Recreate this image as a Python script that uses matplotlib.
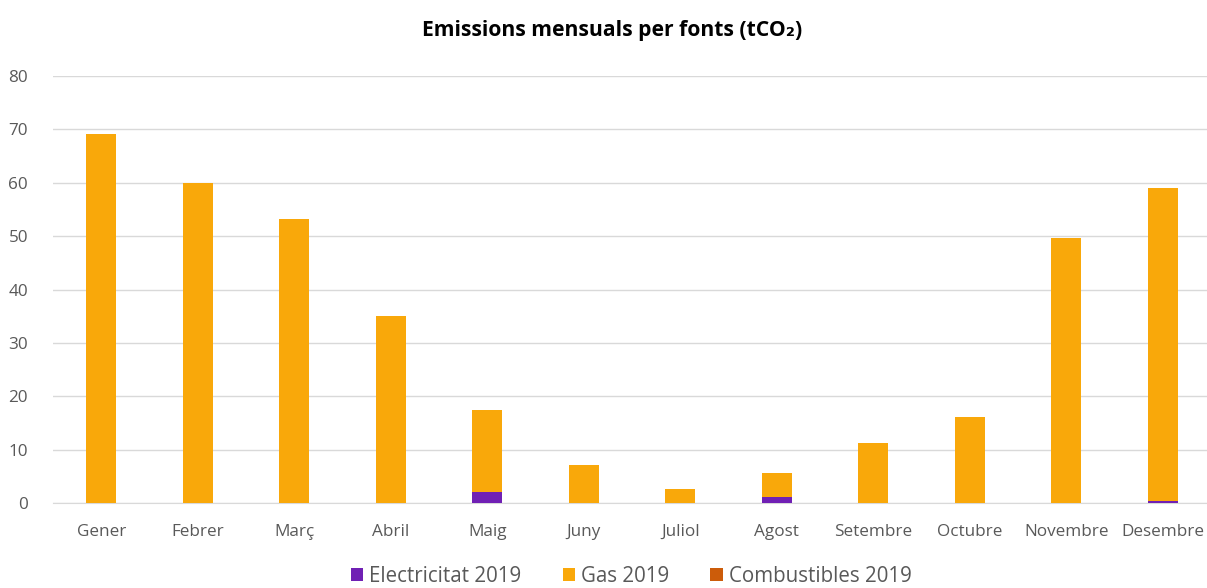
import matplotlib.pyplot as plt
import numpy as np

plt.rcParams['font.family'] = ['Open Sans', 'DejaVu Sans']

months = ['Gener', 'Febrer', 'Març', 'Abril', 'Maig', 'Juny', 'Juliol',
          'Agost', 'Setembre', 'Octubre', 'Novembre', 'Desembre']
electricitat = [0, 0, 0, 0, 2.0, 0, 0, 1.1, 0, 0, 0, 0.3]
gas = [69.1, 59.9, 53.2, 35.0, 15.5, 7.1, 2.7, 4.5, 11.2, 16.1, 49.6, 58.7]
combustibles = [0, 0, 0, 0, 0, 0, 0, 0, 0, 0, 0, 0]

colElec = '#7020B4'
colGas = '#F9A80A'
colComb = '#CC5C0A'
textCol = '#595959'

fig = plt.figure(figsize=(12.07, 5.88), dpi=100)
ax = fig.add_axes([0.0439, 0.1446, 0.9594, 0.7261])

x = np.arange(len(months))
w = 0.31
elec = np.array(electricitat)
gasArr = np.array(gas)
ax.bar(x, elec, w, color=colElec, label='Electricitat 2019', zorder=3)
ax.bar(x, gasArr, w, bottom=elec, color=colGas, label='Gas 2019', zorder=3)
ax.bar(x, combustibles, w, bottom=elec + gasArr, color=colComb,
       label='Combustibles 2019', zorder=3)

ax.set_xlim(-0.5, len(months) - 0.5)
ax.set_ylim(0, 80)
ax.set_yticks(np.arange(0, 81, 10))
ax.set_xticks(x)
ax.set_xticklabels(months)
ax.tick_params(axis='both', length=0, colors=textCol, labelsize=12.3)
ax.tick_params(axis='x', pad=15)
ax.tick_params(axis='y', pad=18)
ax.grid(axis='y', color='#D9D9D9', linewidth=1, zorder=0)
for s in ['top', 'right', 'left']:
    ax.spines[s].set_visible(False)
ax.spines['bottom'].set_color('#D9D9D9')

fig.text(0.507, 0.948, 'Emissions mensuals per fonts (tCO₂)', ha='center', va='center',
         fontsize=15.2, fontweight='bold', color='black')

leg = fig.legend(loc='center', bbox_to_anchor=(0.523, 0.02), ncol=3, frameon=False,
                 fontsize=14.8, handlelength=0.6, handleheight=0.6, handletextpad=0.3,
                 columnspacing=2.0)
for t in leg.get_texts():
    t.set_color(textCol)

fig.savefig('out.png', dpi=100)
